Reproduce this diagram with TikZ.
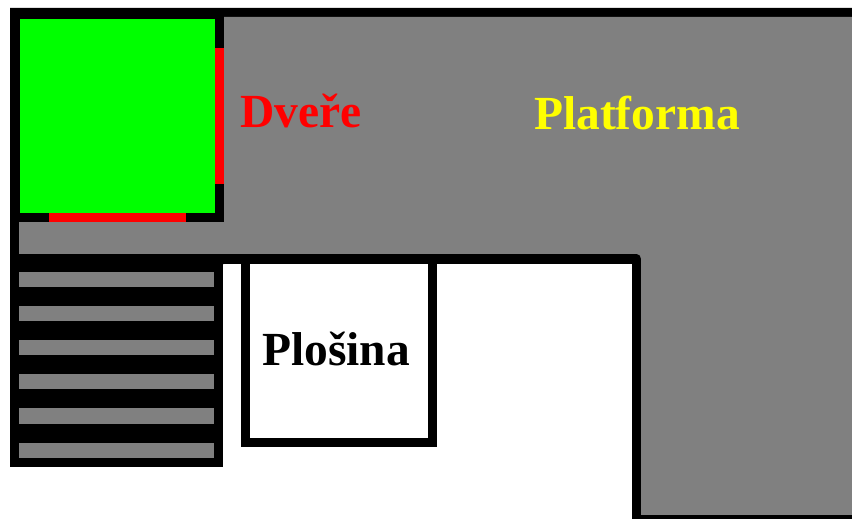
\documentclass[tikz,border=0pt]{standalone}
\usepackage{fontspec}
\setmainfont{Liberation Serif}
\definecolor{deck}{RGB}{128,128,128}
\definecolor{roomgreen}{RGB}{0,255,0}
\definecolor{doorred}{RGB}{255,0,0}
\definecolor{labelyellow}{RGB}{255,255,0}
\tikzset{
  deckfill/.style={fill=deck},
  wall/.style={fill=black},
  door/.style={fill=doorred},
  label/.style={anchor=base west,inner sep=0pt,font=\fontsize{47.5}{50}\selectfont\bfseries},
}
\begin{document}
\begin{tikzpicture}[x=1pt,y=-1pt]
\useasboundingbox (0,0) rectangle (852,519);
% platform outline and deck
\fill[wall] (852,8) -- (10,8) -- (10,264) -- (224,264) -- (224,17) -- (852,17) -- cycle;
\fill[deckfill] (852,17) -- (224,17) -- (224,222) -- (19,222) -- (19,259) -- (636,259) -- (636,515) -- (852,515) -- cycle;
\fill[wall] (632,515) rectangle (852,519);
\draw[line width=9.5pt,line join=round] (10,259) -- (636.5,259) -- (636.5,519);
% green room
\fill[roomgreen] (20,19) rectangle (215,213);
\fill[door] (215,48) rectangle (224,184);
\fill[door] (49,213) rectangle (186,222);
% stairs
\fill[wall] (10,254) rectangle (223,467);
\foreach \y/\yy in {272/287,306/321,340/355,374/389,408/423.5,443/458}
  \fill[deckfill] (19,\y) rectangle (214,\yy);
% plosina
\fill[wall] (241,260) rectangle (437,447);
\fill[white] (250,264) rectangle (428,438);
% labels
\node[label,text=doorred] (dvere) at (240,127) {Dveře};
\node[label,text=labelyellow] (platforma) at (534,129) {Platforma};
\node[label,text=black] (plosina) at (262,365) {Plošina};
\end{tikzpicture}
\end{document}
